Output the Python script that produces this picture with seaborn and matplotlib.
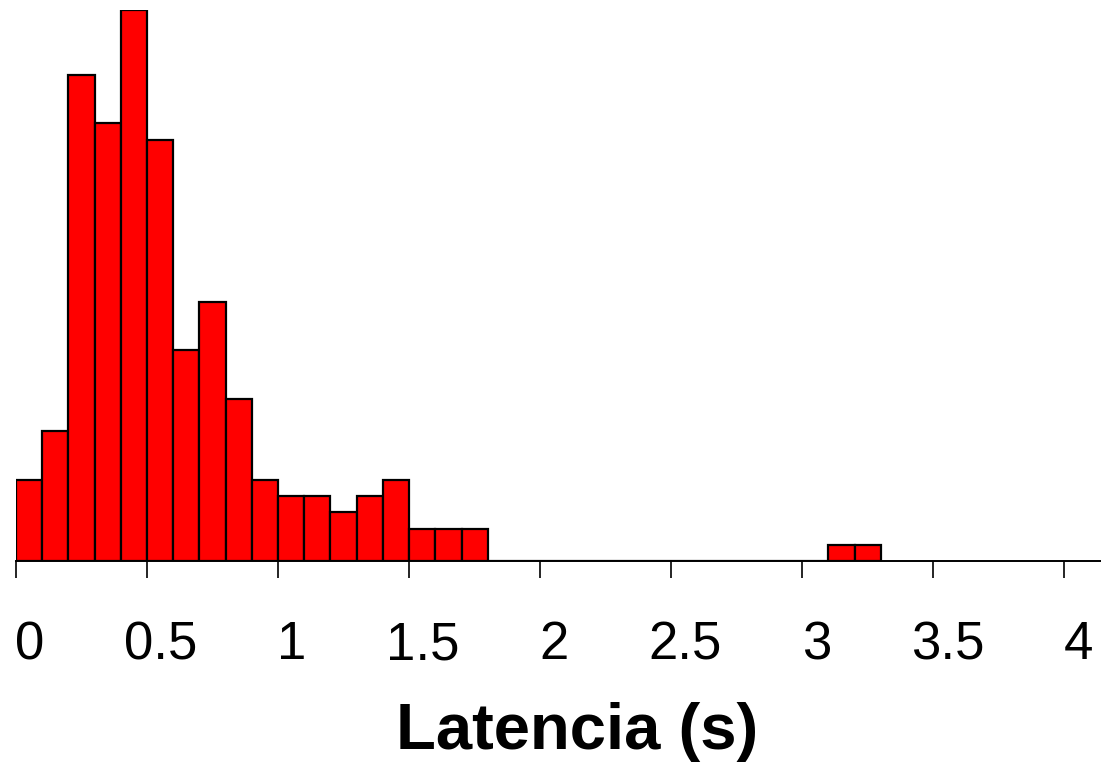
import numpy as np
import pandas as pd
import matplotlib
matplotlib.use("Agg")
import matplotlib.pyplot as plt
from matplotlib.transforms import ScaledTranslation
import seaborn as sns

# Histogram bins (left edge, seconds) and counts
bin_lefts = [0.0, 0.1, 0.2, 0.3, 0.4, 0.5, 0.6, 0.7, 0.8, 0.9,
             1.0, 1.1, 1.2, 1.3, 1.4, 1.5, 1.6, 1.7, 3.1, 3.2]
counts = [5, 8, 30, 27, 34, 26, 13, 16, 10, 5,
          4, 4, 3, 4, 5, 2, 2, 2, 1, 1]
bin_width = 0.1
tick_values = [0, 0.5, 1, 1.5, 2, 2.5, 3, 3.5, 4]
tick_labels = ["0", "0.5", "1", "1.5", "2", "2.5", "3", "3.5", "4"]
xlabel = "Latencia (s)"

sns.set_theme(style="white")
plt.rcParams["font.family"] = ["Liberation Sans", "DejaVu Sans"]

df = pd.DataFrame({"lat": np.array(bin_lefts) + bin_width / 2, "n": counts})

fig = plt.figure(figsize=(11.01, 7.62), dpi=100)
ax = fig.add_axes([16 / 1101, 201 / 762, 1 - 16 / 1101, (752 - 201) / 762])

sns.histplot(data=df, x="lat", weights="n", binwidth=bin_width,
             binrange=(0, max(bin_lefts) + bin_width), ax=ax,
             color="#ff0000", alpha=1, edgecolor="black", linewidth=1.6)

ax.set_xlim(0, 4.14)
ax.set_ylim(0, 34)
for s in ["left", "right", "top"]:
    ax.spines[s].set_visible(False)
ax.spines["bottom"].set_linewidth(1.4)
ax.spines["bottom"].set_color("black")
ax.set_yticks([])
ax.set_ylabel("")
ax.set_xticks(tick_values)
ax.set_xticklabels(tick_labels)
ax.tick_params(axis="x", bottom=True, length=12.5, width=1.2, color="black",
               labelsize=38, pad=30, labelcolor="black")
offset = ScaledTranslation(14 / 100, 0, fig.dpi_scale_trans)
for lab in ax.get_xticklabels():
    lab.set_transform(lab.get_transform() + offset)

ax.set_xlabel(xlabel, fontsize=47, fontweight="bold", color="black")
ax.xaxis.set_label_coords(0.5175, -0.255)

fig.savefig("out.png", dpi=100)
